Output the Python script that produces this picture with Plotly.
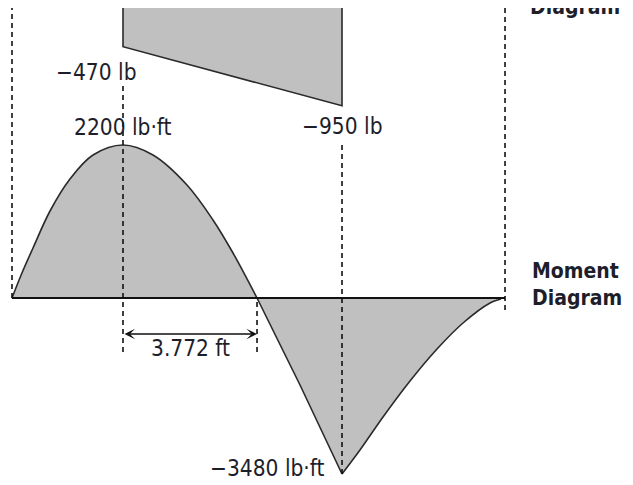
import plotly.graph_objects as go

# ---- data ----
# stations along the beam (ft) and moment ordinates as drawn (schematic units)
pos_x = [0.0, 0.28, 0.591, 1.070, 1.632, 2.280, 3.124, 3.968, 4.925, 5.657, 6.220, 6.896]
pos_m = [0, 25, 50, 87, 119, 143, 153, 143, 113, 78, 45, 0]
negA_x = [6.896, 8.106, 9.288]
negA_m = [0, -87, -176]
negB_x = [9.288, 9.794, 10.442, 11.202, 11.962, 12.694, 13.454, 13.763]
negB_m = [-176, -152, -119, -83, -51, -25, -5, -1]

# shear diagram (lb)
shear_x = [3.124, 3.124, 9.288, 9.288]
shear_v = [0, -470, -950, 0]

beam_start = 0.0
beam_end = 13.876
x_max_moment = 3.124
x_zero = 6.896
x_support = 9.288
dim_len = 3.772

labels = {
    "shear1": "\u2212470 lb",
    "shear2": "\u2212950 lb",
    "mmax": "2200 lb\u00b7ft",
    "mmin": "\u22123480 lb\u00b7ft",
    "dim": "3.772 ft",
}

FILL = "#c0c0c0"
EDGE = "#2a2a2a"
TXT = "#1e1e2a"
FONT = "DejaVu Sans Condensed, Tahoma, DejaVu Sans, sans-serif"
LSIZE = 22.5
BSIZE = 21

fig = go.Figure()

# shear polygon on secondary axis (to scale)
fig.add_trace(go.Scatter(x=shear_x, y=shear_v, yaxis="y2", mode="lines",
                         fill="toself", fillcolor=FILL,
                         line=dict(color=EDGE, width=1.6), hoverinfo="skip"))

# moment diagram pieces
fig.add_trace(go.Scatter(x=pos_x, y=pos_m, mode="lines", fill="tozeroy", fillcolor=FILL,
                         line=dict(color=EDGE, width=1.6, shape="spline", smoothing=1.0),
                         hoverinfo="skip"))
fig.add_trace(go.Scatter(x=negA_x, y=negA_m, mode="lines", fill="tozeroy", fillcolor=FILL,
                         line=dict(color=EDGE, width=1.6, shape="spline", smoothing=0.6),
                         hoverinfo="skip"))
fig.add_trace(go.Scatter(x=negB_x, y=negB_m, mode="lines", fill="tozeroy", fillcolor=FILL,
                         line=dict(color=EDGE, width=1.6, shape="spline", smoothing=0.8),
                         hoverinfo="skip"))

# "Shear Diagram" label at top, mostly outside the picture (clipped)
fig.add_trace(go.Scatter(x=[14.579], y=[303], mode="text", text=["<b>Shear<br>Diagram</b>"],
                         textposition="middle right", cliponaxis=True,
                         textfont=dict(family=FONT, size=BSIZE, color=TXT), hoverinfo="skip"))

shapes = []
# beam baseline
shapes.append(dict(type="line", xref="x", yref="y", x0=beam_start, x1=beam_end, y0=0, y1=0,
                   line=dict(color="#111", width=2)))
dash = dict(color="#111", width=1.6, dash="5px,4px")
for x0, ya, yb in [(beam_start, 0, 300), (x_max_moment, -54, 215), (x_zero, -54, 0),
                   (x_support, -176, 156), (beam_end, -12, 300)]:
    shapes.append(dict(type="line", xref="x", yref="y", x0=x0, x1=x0, y0=ya, y1=yb, line=dash))

annotations = []
def lab(x, y, t, size=LSIZE, anchor="center", bold=False):
    annotations.append(dict(x=x, y=y, xref="x", yref="y", text=("<b>%s</b>" % t) if bold else t,
                            showarrow=False, xanchor=anchor, yanchor="middle", align="left",
                            font=dict(family=FONT, size=size, color=TXT)))

lab(2.392, 226, labels["shear1"])
lab(3.138, 171, labels["mmax"])
lab(9.30, 172, labels["shear2"])
lab(5.01, -50, labels["dim"])
lab(8.87, -170, labels["mmin"], anchor="right")
lab(14.579, 14, "Moment<br>Diagram", size=BSIZE, anchor="left", bold=True)

# dimension arrow
annotations.append(dict(x=x_max_moment + dim_len, y=-36, ax=x_max_moment, ay=-36,
                        xref="x", yref="y", axref="x", ayref="y", text="", showarrow=True,
                        arrowside="end+start", arrowhead=3, arrowsize=1.1, arrowwidth=1.6,
                        arrowcolor="#111"))

fig.update_layout(
    width=633, height=485,
    margin=dict(l=0, r=0, t=8, b=0),
    paper_bgcolor="white", plot_bgcolor="white",
    showlegend=False,
    hovermode=False,
    xaxis=dict(range=[-0.3377, 17.478], visible=False, fixedrange=True),
    yaxis=dict(range=[-187, 290], visible=False, fixedrange=True),
    yaxis2=dict(range=[-4035.8, -154.6], overlaying="y", visible=False, fixedrange=True),
    shapes=shapes,
    annotations=annotations,
)

fig.write_html("out.html", config={"displayModeBar": False, "staticPlot": True})
with open("out.html", encoding="utf-8") as f:
    html = f.read()
html = html.replace("<head>", "<head><style>html,body{margin:0;padding:0;overflow:hidden}</style>", 1)
with open("out.html", "w", encoding="utf-8") as f:
    f.write(html)
